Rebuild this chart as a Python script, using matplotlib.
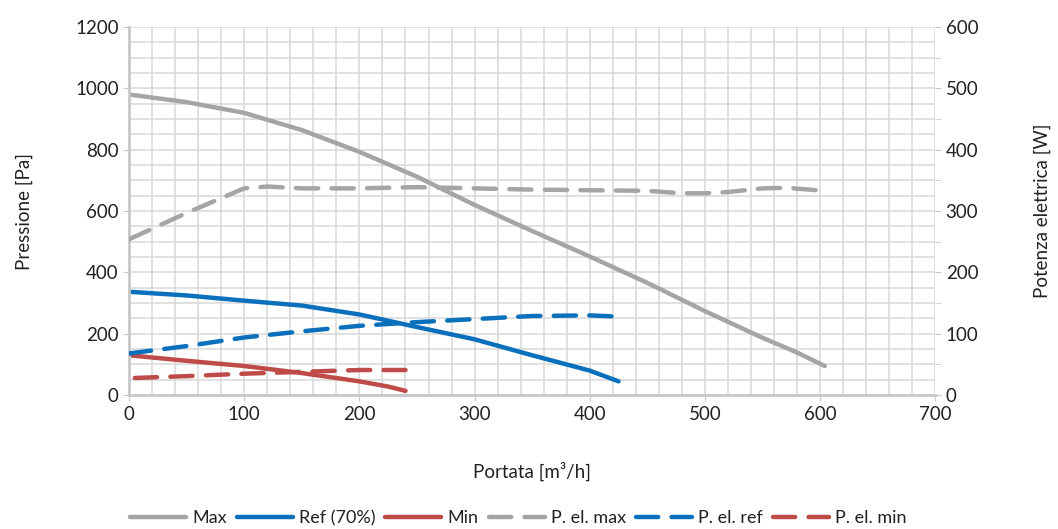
import matplotlib
matplotlib.use("Agg")
import matplotlib.pyplot as plt
from matplotlib.ticker import MultipleLocator

plt.rcParams['font.family'] = ['Lato', 'DejaVu Sans']

# pressure curves [Pa] vs flow [m3/h]
max_q = [0, 50, 100, 150, 200, 250, 300, 350, 400, 450, 500, 550, 580, 604]
max_p = [980, 955, 920, 864, 793, 712, 620, 535, 452, 366, 274, 187, 139, 95]

ref_q = [0, 50, 100, 150, 200, 250, 300, 350, 380, 400, 425]
ref_p = [337, 325, 308, 292, 263, 222, 182, 130, 100, 80, 45]

min_q = [0, 50, 100, 150, 200, 225, 240]
min_p = [130, 112, 95, 72, 45, 28, 14]

# electrical power [W] vs flow
pel_max_q = [0, 50, 80, 100, 120, 150, 200, 250, 300, 350, 400, 450, 480, 500, 520, 550, 570, 604]
pel_max_w = [254, 297, 321, 337, 340, 337, 337, 339, 337, 335, 334, 333, 329, 329, 331, 337, 338, 333]

pel_ref_q = [0, 50, 100, 150, 200, 250, 300, 350, 400, 425]
pel_ref_w = [68, 80, 94, 104, 113, 119, 124, 129, 130, 128]

pel_min_q = [5, 50, 100, 150, 200, 240]
pel_min_w = [28, 31, 35, 38, 41, 41]

GREY = '#A5A5A7'
BLUE = '#0A70BC'
RED = '#BE4B48'
GRID = '#D9D9D9'
TXT = '#222222'

fig = plt.figure(figsize=(10.58, 5.29), dpi=100)
ax = fig.add_axes([0.122, 0.253, 0.762, 0.696])
ax2 = ax.twinx()

lw = 3.2
dash = (0, (5, 3))
h1, = ax.plot(max_q, max_p, color=GREY, lw=lw, solid_capstyle='round', label='Max')
h2, = ax.plot(ref_q, ref_p, color=BLUE, lw=lw, solid_capstyle='round', label='Ref (70%)')
h3, = ax.plot(min_q, min_p, color=RED, lw=lw, solid_capstyle='round', label='Min')
h4, = ax2.plot(pel_max_q, pel_max_w, color=GREY, lw=lw, ls=dash, dash_capstyle='round', label='P. el. max')
h5, = ax2.plot(pel_ref_q, pel_ref_w, color=BLUE, lw=lw, ls=dash, dash_capstyle='round', label='P. el. ref')
h6, = ax2.plot(pel_min_q, pel_min_w, color=RED, lw=lw, ls=dash, dash_capstyle='round', label='P. el. min')

ax.set_xlim(0, 700)
ax.set_ylim(0, 1200)
ax2.set_ylim(0, 600)
ax.xaxis.set_major_locator(MultipleLocator(100))
ax.xaxis.set_minor_locator(MultipleLocator(20))
ax.yaxis.set_major_locator(MultipleLocator(200))
ax.yaxis.set_minor_locator(MultipleLocator(50))
ax2.yaxis.set_major_locator(MultipleLocator(100))
ax2.yaxis.set_minor_locator(MultipleLocator(50))

ax.grid(True, which='both', color=GRID, lw=1.1)
ax.set_axisbelow(True)

for a in (ax, ax2):
    for s in a.spines.values():
        s.set_visible(False)
ax.spines['left'].set_visible(True)
ax.spines['bottom'].set_visible(True)
ax.spines['left'].set_color('#C8C8C8')
ax.spines['bottom'].set_color('#C8C8C8')
ax.spines['left'].set_linewidth(2)
ax.spines['bottom'].set_linewidth(2)

ax.tick_params(which='both', colors='#C8C8C8', labelcolor=TXT, labelsize=13.5, length=4)
ax.tick_params(axis='x', which='minor', length=0)
ax.tick_params(axis='y', which='minor', length=0)
ax2.tick_params(which='both', colors='#C8C8C8', labelcolor=TXT, labelsize=13.5, length=4)

ax.set_xlabel('Portata [m³/h]', fontsize=13.5, color=TXT, labelpad=28)
ax.set_ylabel('Pressione [Pa]', fontsize=13.5, color=TXT, labelpad=30)
ax2.set_ylabel('Potenza elettrica [W]', fontsize=13.5, color=TXT, labelpad=40)

leg = fig.legend(handles=[h1, h2, h3, h4, h5, h6], loc='center', bbox_to_anchor=(0.49, 0.02),
                 ncol=6, frameon=False, fontsize=13, handlelength=3.1, handletextpad=0.35,
                 columnspacing=0.55, labelcolor=TXT)

fig.savefig('out.png', dpi=100)
